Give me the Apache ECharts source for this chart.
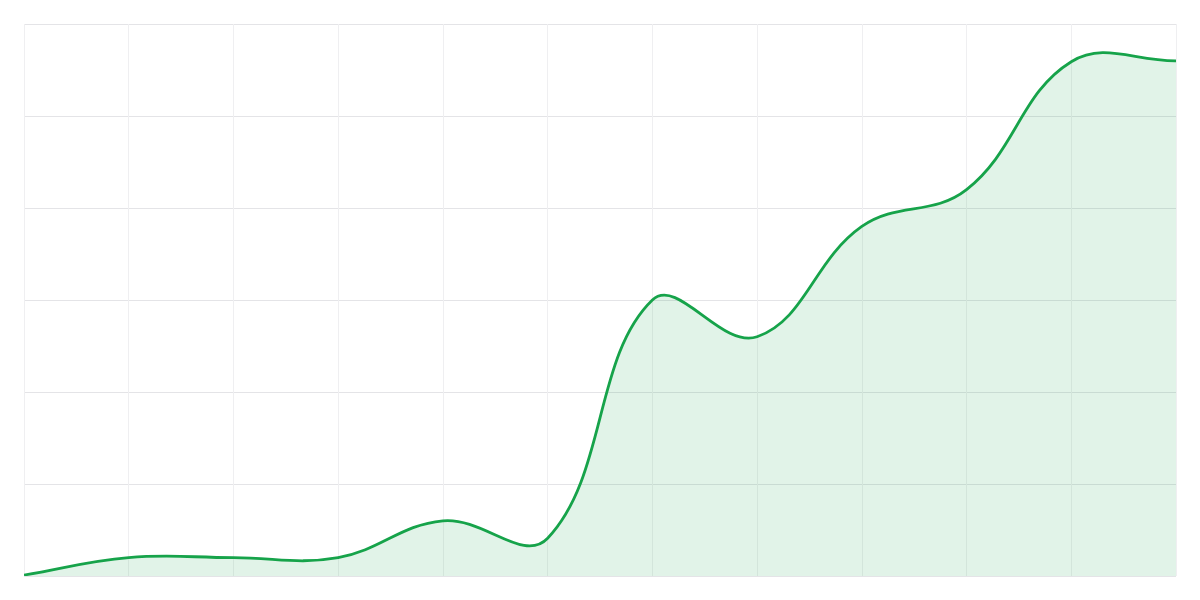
<!DOCTYPE html>
<html>
<head>
<meta charset="utf-8">
<script src="https://cdn.jsdelivr.net/npm/echarts@6/dist/echarts.min.js"></script>
<style>
html,body{margin:0;padding:0;background:#fff;}
#chart{width:1200px;height:600px;}
</style>
</head>
<body>
<div id="chart"></div>
<script>
const categories = ['1','2','3','4','5','6','7','8','9','10','11','12'];
const values = [1, 20, 20, 20, 60, 41, 300, 260, 380, 420, 559, 560];
const yTicks = { min: 0, max: 600, interval: 100 };
const tension = 0.4;

function buildPaths(api) {
  const pts = values.map((v, i) => api.coord([i, v]));
  const n = pts.length;
  const cps = pts.map((p, i) => {
    const prev = pts[Math.max(0, i - 1)];
    const next = pts[Math.min(n - 1, i + 1)];
    const d01 = Math.hypot(p[0] - prev[0], p[1] - prev[1]);
    const d12 = Math.hypot(next[0] - p[0], next[1] - p[1]);
    const s01 = d01 / (d01 + d12 || 1);
    const s12 = d12 / (d01 + d12 || 1);
    const fa = tension * s01, fb = tension * s12;
    return {
      prev: [p[0] - fa * (next[0] - prev[0]), p[1] - fa * (next[1] - prev[1])],
      next: [p[0] + fb * (next[0] - prev[0]), p[1] + fb * (next[1] - prev[1])]
    };
  });
  let d = 'M' + pts[0][0] + ' ' + pts[0][1];
  for (let i = 1; i < n; i++) {
    const c1 = cps[i - 1].next, c2 = cps[i].prev, p = pts[i];
    d += ' C' + c1[0] + ' ' + c1[1] + ' ' + c2[0] + ' ' + c2[1] + ' ' + p[0] + ' ' + p[1];
  }
  const base = api.coord([0, yTicks.min])[1];
  const area = d + ' L' + pts[n - 1][0] + ' ' + base + ' L' + pts[0][0] + ' ' + base + ' Z';
  return { line: d, area: area };
}

const chart = echarts.init(document.getElementById('chart'), null, { renderer: 'canvas' });
chart.setOption({
  animation: false,
  backgroundColor: '#ffffff',
  grid: { left: 24, right: 24, top: 24, bottom: 24, containLabel: false },
  xAxis: {
    type: 'category',
    data: categories,
    boundaryGap: false,
    axisLine: { show: false },
    axisTick: { show: false },
    axisLabel: { show: false },
    splitLine: { show: true, lineStyle: { color: '#efeff1', width: 1 } }
  },
  yAxis: {
    type: 'value',
    min: yTicks.min,
    max: yTicks.max,
    interval: yTicks.interval,
    axisLine: { show: false },
    axisTick: { show: false },
    axisLabel: { show: false },
    splitLine: { show: true, lineStyle: { color: '#e4e4e7', width: 1 } }
  },
  series: [{
    type: 'custom',
    data: values.map((v, i) => [i, v]),
    encode: { x: 0, y: 1 },
    clip: true,
    renderItem: function (params, api) {
      if (params.dataIndex !== 0) return null;
      const p = buildPaths(api);
      return {
        type: 'group',
        children: [
          { type: 'path', shape: { pathData: p.area }, style: { fill: 'rgba(22,163,74,0.13)', stroke: null } },
          { type: 'path', shape: { pathData: p.line }, style: { fill: null, stroke: '#16a34a', lineWidth: 2.8, lineJoin: 'round' } }
        ]
      };
    }
  }]
});
</script>
</body>
</html>
